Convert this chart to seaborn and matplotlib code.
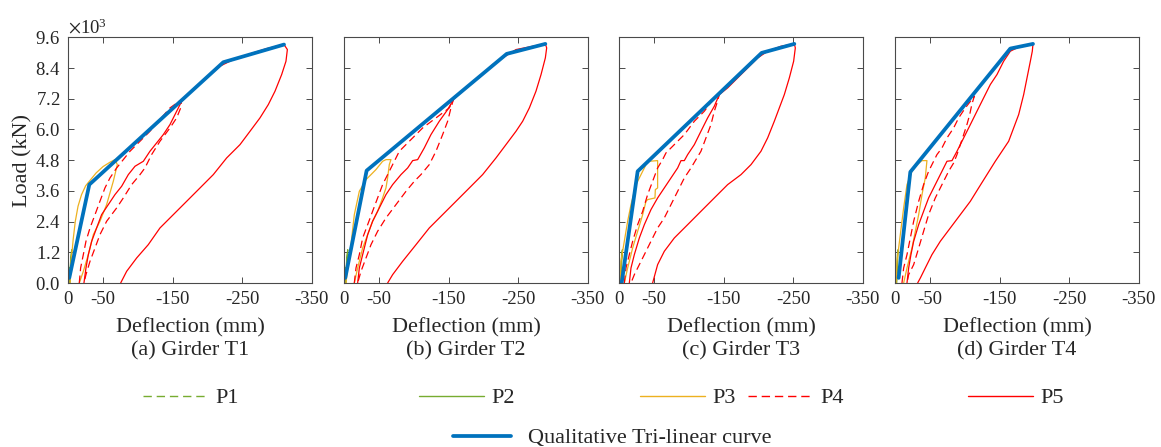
import numpy as np
import pandas as pd
import matplotlib
matplotlib.use("Agg")
import matplotlib.pyplot as plt
from matplotlib.lines import Line2D
from matplotlib.ticker import ScalarFormatter, FixedLocator
import seaborn as sns

# ---------------- data (deflection in mm, load in kN) ----------------
girders = ["(a) Girder T1", "(b) Girder T2", "(c) Girder T3", "(d) Girder T4"]

# Qualitative tri-linear curves
tri_x = [
    [-1.4, -30.2, -222.9, -310.2],
    [-1.4, -32.1, -233.5, -289.1],
    [-3.4, -26.4, -204.7, -251.7],
    [-4.8, -21.6, -165.4, -198.0],
]
tri_y = [
    [200, 3844, 8626, 9316],
    [200, 4391, 8952, 9342],
    [0, 4365, 8991, 9342],
    [200, 4339, 9160, 9342],
]

# P1 (small load cycle near origin)
p1_x = [
    [0, -1.0, -2.0, -2.5, -1.5],
    [0, -1.0, -2.0, -2.5, -1.5],
    [0, -1.0, -2.0, -2.5, -1.5],
    [0, -1.0, -2.0, -2.5, -1.5],
]
p1_y = [
    [0, 300, 600, 400, 0],
    [0, 300, 600, 400, 0],
    [0, 300, 600, 400, 0],
    [0, 300, 600, 400, 0],
]

# P2
p2_x = [
    [-1.5, -2.5, -4.0, -5.0, -3.5, -2.5],
    [-1.5, -2.5, -4.0, -5.0, -3.5, -2.5],
    [-1.0, -2.0, -3.5, -4.5, -3.0, -2.0],
    [-1.0, -2.0, -3.0, -4.0, -3.0, -2.0],
]
p2_y = [
    [0, 500, 1100, 1300, 600, 0],
    [0, 500, 1100, 1300, 600, 0],
    [0, 500, 1100, 1300, 600, 0],
    [0, 500, 1100, 1300, 600, 0],
]

# P3 (loading then unloading)
p3_x = [
    [-2.5, -4, -7, -10, -14, -19, -25, -31, -40, -50, -60, -67.1,
     -70.5, -64.7, -55.1, -45.5, -36.0, -28.8, -21.6, -15.8],
    [-2.4, -4.8, -9.6, -14.4, -21.6, -31.2, -38.4, -45.5, -55.1, -60.0, -67.1,
     -64.7, -62.3, -59.9, -55.1, -47.9, -40.7, -33.6, -26.4, -19.2, -14.4],
    [-1.0, -2.4, -7.2, -12.0, -16.8, -24.0, -31.2, -38.4, -43.1, -55.1,
     -55.1, -51.8, -51.3, -40.7, -38.4, -33.6, -26.4, -19.2, -12.0, -7.2],
    [-1.0, -2.4, -7.2, -12.0, -16.8, -24.0, -31.2, -38.4, -45.5,
     -43.1, -38.4, -33.6, -28.8, -24.0, -16.8, -12.0],
]
p3_y = [
    [0, 800, 1700, 2400, 3000, 3450, 3800, 4000, 4300, 4550, 4720, 4821,
     4626, 3974, 3062, 2411, 1889, 1108, 456, 0],
    [0, 586, 1498, 2671, 3583, 4039, 4235, 4430, 4756, 4821, 4821,
     4626, 4104, 3714, 3323, 2801, 2411, 1889, 1368, 586, 0],
    [0, 847, 1629, 2411, 3062, 3844, 4235, 4626, 4756, 4782,
     3714, 3648, 3323, 3258, 3192, 2671, 2020, 1368, 586, 0],
    [0, 847, 1889, 2932, 3844, 4365, 4626, 4782, 4782,
     4104, 3453, 2671, 2020, 1368, 586, 0],
]

# P4 (dashed; loading then unloading)
p4_x = [
    [-15.8, -17.7, -21.6, -25.4, -31.2, -38.4, -45.5, -52.7, -59.9, -69.5, -79.1,
     -88.7, -103.1, -117.4, -131.8, -146.2, -163.0,
     -161.6, -155.8, -146.2, -131.8, -119.8, -110.2, -103.1, -91.1, -79.1, -69.5,
     -55.1, -45.5, -38.4, -31.2, -25.4, -22.5],
    [-14.4, -16.8, -21.6, -26.4, -33.6, -40.7, -47.9, -55.1, -64.7, -74.3, -79.1,
     -93.5, -112.7, -131.8, -151.0, -156.8,
     -153.4, -148.6, -141.4, -131.8, -122.2, -110.2, -100.7, -88.7, -74.3, -59.9,
     -47.9, -38.4, -31.2, -24.0, -19.2],
    [-7.2, -9.6, -14.4, -19.2, -26.4, -33.6, -40.7, -47.9, -55.1, -62.3, -67.1,
     -74.3, -83.9, -93.5, -107.9, -122.2, -136.6, -143.8,
     -140.5, -136.6, -131.8, -124.6, -117.4, -110.2, -103.1, -93.5, -83.9, -74.3,
     -64.7, -55.1, -45.5, -36.0, -28.8, -21.6, -16.8],
    [-9.6, -12.0, -16.8, -21.6, -26.4, -33.6, -40.7, -47.9, -55.1, -59.9, -67.1,
     -74.3, -83.9, -91.1, -100.7, -113.6,
     -110.0, -107.0, -103.0, -98.3, -93.5, -88.7, -83.9, -76.7, -67.1, -57.5,
     -47.9, -40.7, -33.6, -26.4, -19.2, -16.8],
]
p4_y = [
    [0, 586, 1108, 1629, 2150, 2671, 3192, 3714, 4104, 4495, 4821,
     5147, 5538, 5929, 6385, 6841, 7167,
     6841, 6450, 6059, 5538, 5017, 4495, 4235, 3844, 3323, 2932,
     2411, 1889, 1368, 847, 326, 0],
    [0, 586, 1108, 1759, 2280, 2801, 3323, 3844, 4365, 4886, 5147,
     5538, 6059, 6450, 6841, 7167,
     6841, 6320, 5798, 5147, 4626, 4235, 3974, 3583, 3062, 2541,
     2020, 1498, 977, 456, 0],
    [0, 586, 1108, 1629, 2280, 2801, 3453, 3974, 4495, 4821, 5082,
     5277, 5538, 5798, 6320, 6710, 7232, 7362,
     7036, 6710, 6189, 5668, 5147, 4821, 4495, 4104, 3583, 3062,
     2541, 2150, 1629, 1108, 717, 326, 0],
    [0, 586, 1108, 1759, 2411, 3192, 3844, 4365, 4756, 5017, 5277,
     5668, 6059, 6450, 6841, 7297,
     6971, 6580, 6189, 5798, 5407, 5017, 4690, 4365, 3844, 3323,
     2671, 2020, 1368, 717, 326, 0],
]

# P5 (solid red; loading then unloading)
p5_x = [
    [-22.5, -25.4, -28.8, -33.6, -40.7, -47.9, -57.5, -67.1, -76.7, -86.3, -95.9,
     -107.9, -117.4, -127.0, -136.6, -146.2, -155.8, -163.0, -179.8, -199.0,
     -218.0, -237.3, -261.3, -285.2, -310.2,
     -315.0, -313.0, -306.8, -297.2, -287.6, -275.6, -261.3, -246.9, -227.7,
     -208.5, -189.4, -170.2, -151.0, -131.8, -115.0, -98.3, -83.9, -75.3],
    [-19.2, -21.6, -26.4, -33.6, -40.7, -50.3, -59.9, -69.5, -81.5, -91.1, -98.3,
     -105.5, -115.0, -124.6, -136.6, -148.6, -156.8, -170.2, -184.6, -199.0,
     -213.3, -227.7, -246.9, -270.9, -289.1,
     -291.0, -289.1, -282.9, -275.6, -266.1, -256.5, -246.9, -232.5, -218.1,
     -198.9, -179.8, -160.6, -141.4, -122.2, -103.1, -83.9, -69.5, -62.3],
    [-14.4, -16.8, -21.6, -28.8, -36.0, -45.5, -55.1, -64.7, -74.3, -83.9, -88.7,
     -93.5, -98.3, -107.9, -117.4, -127.0, -136.6, -143.8, -155.8, -170.2,
     -184.6, -199.0, -213.3, -232.5, -251.7,
     -253.1, -250.7, -244.5, -237.3, -230.1, -222.9, -213.3, -203.7, -189.4,
     -175.0, -155.8, -136.6, -117.4, -98.3, -79.1, -64.7, -55.1, -47.9],
    [-16.8, -19.2, -22.5, -26.4, -33.6, -40.7, -47.9, -57.5, -67.1, -74.3, -81.5,
     -88.7, -98.3, -107.9, -117.4, -127.0, -136.6, -146.2, -155.8, -165.4,
     -179.8, -198.0,
     -197.0, -194.2, -189.4, -184.6, -177.4, -170.2, -163.0, -153.4, -143.8,
     -131.8, -119.8, -107.9, -93.5, -79.1, -64.7, -52.7, -43.1, -36.0, -32.1],
]
p5_y = [
    [0, 586, 1108, 1629, 2150, 2671, 3062, 3453, 3779, 4235, 4561,
     4756, 5147, 5472, 5798, 6189, 6710, 7101, 7557, 8014,
     8470, 8730, 8952, 9160, 9316,
     9121, 8665, 8144, 7492, 6971, 6450, 5929, 5407, 4886,
     4235, 3714, 3192, 2671, 2150, 1498, 978, 456, 0],
    [0, 586, 1108, 1889, 2411, 2932, 3453, 3844, 4235, 4495, 4782,
     4821, 5277, 5798, 6320, 6776, 7167, 7492, 7818, 8144,
     8535, 8795, 9121, 9251, 9342,
     9186, 8795, 8144, 7492, 6841, 6320, 5929, 5407, 4886,
     4235, 3714, 3192, 2671, 2150, 1498, 847, 326, 0],
    [0, 586, 1108, 1759, 2280, 2866, 3323, 3714, 4104, 4495, 4782,
     4782, 5017, 5407, 5929, 6450, 6906, 7362, 7623, 8014,
     8404, 8795, 9056, 9251, 9342,
     9186, 8665, 8014, 7362, 6841, 6320, 5668, 5147, 4626,
     4235, 3844, 3323, 2801, 2280, 1759, 1238, 717, 0],
    [0, 586, 1108, 1629, 2280, 2801, 3323, 3844, 4365, 4756, 4782,
     5147, 5668, 6189, 6710, 7232, 7753, 8144, 8665, 9056,
     9251, 9342,
     9056, 8665, 8014, 7362, 6580, 6059, 5538, 5147, 4756,
     4235, 3714, 3192, 2671, 2150, 1629, 1108, 586, 195, 0],
]

x_ticks = [0, -50, -150, -250, -350]
y_ticks = [0, 1200, 2400, 3600, 4800, 6000, 7200, 8400, 9600]

# ---------------- styling ----------------
sns.set_theme(style="ticks")
plt.rcParams["font.family"] = ["Liberation Serif", "DejaVu Serif"]
plt.rcParams["mathtext.fontset"] = "stix"
plt.rcParams["axes.unicode_minus"] = False

GREEN = "#77AC30"
ORANGE = "#EDB120"
RED = "#FF0000"
BLUE = "#0072BD"
SPINE = "#4a4a4a"

W, H = 1161, 447
fig = plt.figure(figsize=(W / 100, H / 100), dpi=100)
fig.patch.set_facecolor("white")

lefts = [68.3, 344.3, 619.3, 895.3]
ax_w = 243.4
ax_top, ax_bot = 37.3, 283.0

series = [
    ("P1", p1_x, p1_y, GREEN, (0, (6, 3.5)), 0.9),
    ("P2", p2_x, p2_y, GREEN, "-", 0.9),
    ("P3", p3_x, p3_y, ORANGE, "-", 0.9),
    ("P4", p4_x, p4_y, RED, (0, (6, 3.5)), 0.9),
    ("P5", p5_x, p5_y, RED, "-", 0.9),
]

for i in range(4):
    ax = fig.add_axes([lefts[i] / W, 1 - ax_bot / H, ax_w / W, (ax_bot - ax_top) / H])
    for name, xs, ys, col, ls, lw in series:
        df = pd.DataFrame({"x": xs[i], "y": ys[i]})
        sns.lineplot(data=df, x="x", y="y", sort=False, estimator=None, ax=ax,
                     color=col, linestyle=ls, linewidth=lw)
    df = pd.DataFrame({"x": tri_x[i], "y": tri_y[i]})
    sns.lineplot(data=df, x="x", y="y", sort=False, estimator=None, ax=ax,
                 color=BLUE, linewidth=2.7, solid_joinstyle="round")

    ax.set_xlim(0, -350)
    ax.set_ylim(0, 9600)
    ax.xaxis.set_major_locator(FixedLocator(x_ticks))
    ax.yaxis.set_major_locator(FixedLocator(y_ticks))
    ax.tick_params(direction="in", length=4, width=0.7, color=SPINE,
                   top=True, right=True, labelsize=13.5, pad=6)
    for sp in ax.spines.values():
        sp.set_color(SPINE)
        sp.set_linewidth(0.8)
    ax.set_xlabel("Deflection (mm)", fontsize=16, labelpad=7)
    ax.text(0.5, -0.235, girders[i], transform=ax.transAxes, ha="center",
            va="top", fontsize=16)
    if i == 0:
        fmt = ScalarFormatter(useMathText=True)
        fmt.set_powerlimits((3, 3))
        ax.yaxis.set_major_formatter(fmt)
        ax.yaxis.get_offset_text().set_fontsize(13.5)
        ax.set_ylabel("Load (kN)", fontsize=16, labelpad=2)
    else:
        ax.set_ylabel("")
        ax.tick_params(labelleft=False)

# ---------------- legends ----------------
leg_items = [
    ("P1", GREEN, (0, (6, 3.5)), 1.0, 143),
    ("P2", GREEN, "-", 1.0, 419),
    ("P3", ORANGE, "-", 1.0, 640),
    ("P4", RED, (0, (6, 3.5)), 1.0, 748),
    ("P5", RED, "-", 1.0, 968),
]
for lab, col, ls, lw, xpx in leg_items:
    h = Line2D([], [], color=col, linestyle=ls, linewidth=lw)
    fig.legend(handles=[h], labels=[lab], loc="center left",
               bbox_to_anchor=(xpx / W, 1 - 398 / H), frameon=False,
               fontsize=16, handlelength=2.93, handletextpad=0.32,
               borderpad=0, borderaxespad=0)

h = Line2D([], [], color=BLUE, linewidth=2.7)
fig.legend(handles=[h], labels=["Qualitative Tri-linear curve"], loc="center left",
           bbox_to_anchor=(453 / W, 1 - 438 / H), frameon=False,
           fontsize=16, handlelength=2.6, handletextpad=0.77,
           borderpad=0, borderaxespad=0)

fig.savefig("out.png", dpi=100, facecolor="white")
